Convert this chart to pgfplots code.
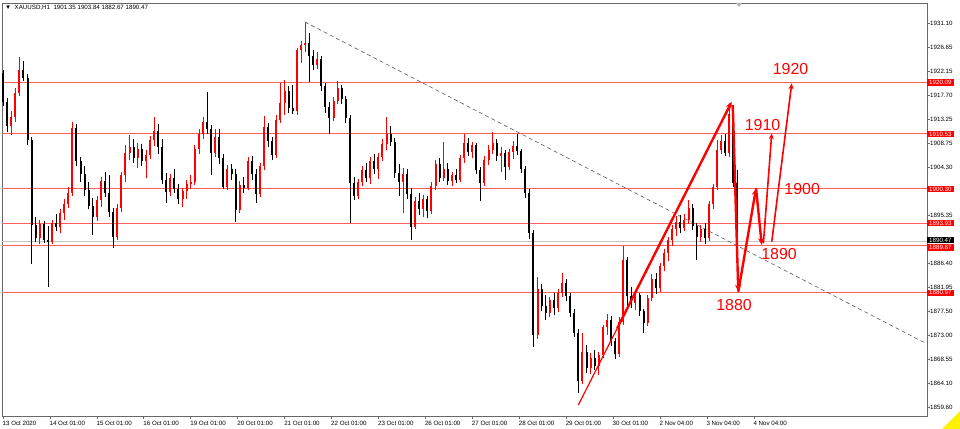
\documentclass[border=0pt]{standalone}
\usepackage{fontspec}
\setmainfont{Liberation Sans}
\usepackage{pgfplots}
\usepackage{pgfplotstable}
\pgfplotsset{compat=1.18}
\usetikzlibrary{arrows.meta}

\definecolor{mtred}{RGB}{255,0,0}
\definecolor{lvl}{RGB}{255,95,95}
\definecolor{frm}{RGB}{105,105,105}

% 2-hour candles: x = hour index, open high low close
\pgfplotstableread{
x o h l c
0 1921.8 1922.5 1915.8 1916.5
2 1916.5 1917.2 1910.8 1912.0
4 1912.0 1914.8 1910.3 1913.6
6 1913.6 1919.0 1912.8 1918.1
8 1918.1 1924.9 1917.5 1922.5
10 1922.5 1924.0 1920.3 1921.0
12 1921.0 1921.6 1908.5 1909.4
14 1909.4 1910.0 1886.3 1893.5
16 1893.5 1895.0 1890.5 1891.2
18 1891.2 1894.6 1890.0 1893.8
20 1893.8 1894.3 1890.2 1890.8
22 1890.8 1893.4 1882.1 1890.4
24 1890.4 1894.5 1890.0 1894.0
26 1894.0 1895.6 1892.4 1893.2
28 1893.2 1896.5 1892.0 1895.8
30 1895.8 1898.4 1894.6 1897.5
32 1897.5 1900.6 1896.8 1899.5
34 1899.5 1912.8 1899.0 1911.6
36 1911.6 1912.4 1904.5 1905.4
38 1905.4 1906.2 1901.5 1903.0
40 1903.0 1904.6 1899.0 1900.0
42 1900.0 1901.5 1896.5 1897.2
44 1897.2 1898.6 1891.7 1895.1
46 1895.1 1899.0 1894.3 1898.2
48 1898.2 1902.6 1897.0 1901.8
50 1901.8 1903.5 1898.8 1899.6
52 1899.6 1902.8 1895.0 1896.0
54 1896.0 1896.8 1889.3 1891.4
56 1891.4 1897.5 1890.8 1896.8
58 1896.8 1903.5 1896.0 1902.8
60 1902.8 1908.5 1901.5 1906.9
62 1906.9 1910.3 1905.6 1908.1
64 1908.1 1909.6 1905.2 1906.0
66 1906.0 1908.9 1904.2 1907.8
68 1907.8 1908.6 1904.6 1905.4
70 1905.4 1907.5 1902.3 1906.6
72 1906.6 1910.2 1905.8 1909.4
74 1909.4 1913.7 1908.2 1911.0
76 1911.0 1912.4 1906.8 1908.0
78 1908.0 1909.6 1901.2 1902.0
80 1902.0 1903.2 1897.7 1899.8
82 1899.8 1903.0 1898.9 1902.4
84 1902.4 1904.0 1899.5 1900.2
86 1900.2 1901.3 1897.5 1898.4
88 1898.4 1900.5 1897.0 1899.9
90 1899.9 1901.9 1898.5 1901.2
92 1901.2 1902.8 1900.3 1901.6
94 1901.6 1908.4 1901.0 1907.8
96 1907.8 1911.4 1906.8 1910.6
98 1910.6 1913.6 1909.6 1912.8
100 1912.8 1918.4 1910.5 1911.5
102 1911.5 1912.2 1902.9 1907.0
104 1907.0 1911.5 1906.2 1910.0
106 1910.0 1911.4 1905.0 1906.0
108 1906.0 1906.8 1900.2 1900.7
110 1900.7 1904.8 1900.0 1904.0
112 1904.0 1905.0 1902.0 1903.0
114 1903.0 1904.0 1894.2 1896.4
116 1896.4 1901.8 1895.8 1901.0
118 1901.0 1902.6 1899.6 1900.5
120 1900.5 1906.2 1900.0 1905.5
122 1905.5 1906.4 1902.0 1903.0
124 1903.0 1904.0 1897.7 1899.4
126 1899.4 1905.2 1898.8 1904.6
128 1904.6 1913.9 1903.8 1911.9
130 1911.9 1912.6 1908.0 1909.2
132 1909.2 1910.0 1905.6 1906.6
134 1906.6 1914.0 1906.0 1913.2
136 1913.2 1920.0 1912.6 1916.3
138 1916.3 1920.5 1914.0 1918.5
140 1918.5 1919.5 1914.4 1915.4
142 1915.4 1919.6 1914.2 1914.8
144 1914.8 1926.6 1914.0 1926.1
146 1926.1 1927.8 1923.8 1927.0
148 1927.0 1931.3 1925.8 1927.4
150 1927.4 1929.3 1920.2 1925.0
152 1925.0 1926.2 1922.4 1923.4
154 1923.4 1925.8 1922.6 1924.5
156 1924.5 1925.0 1918.6 1919.4
158 1919.4 1920.0 1914.5 1915.6
160 1915.6 1916.5 1910.6 1913.5
162 1913.5 1917.4 1913.0 1916.6
164 1916.6 1920.3 1916.0 1919.1
166 1919.1 1919.6 1916.0 1917.0
168 1917.0 1917.6 1912.5 1913.5
170 1913.5 1914.0 1894.0 1901.4
172 1901.4 1902.6 1898.2 1899.0
174 1899.0 1902.2 1898.5 1901.5
176 1901.5 1904.6 1900.8 1903.8
178 1903.8 1905.2 1901.5 1902.4
180 1902.4 1906.2 1901.2 1905.4
182 1905.4 1906.8 1903.0 1904.0
184 1904.0 1907.0 1902.2 1906.3
186 1906.3 1909.6 1905.5 1908.6
188 1908.6 1913.7 1907.6 1910.6
190 1910.6 1912.0 1908.2 1909.0
192 1909.0 1909.8 1902.4 1903.2
194 1903.2 1905.0 1899.0 1901.6
196 1901.6 1904.2 1895.8 1903.0
198 1903.0 1904.0 1898.5 1899.4
200 1899.4 1900.5 1890.8 1893.3
202 1893.3 1898.8 1892.8 1898.0
204 1898.0 1899.6 1895.5 1896.6
206 1896.6 1899.2 1895.0 1898.4
208 1898.4 1899.0 1894.8 1896.2
210 1896.2 1901.5 1895.6 1900.8
212 1900.8 1905.6 1900.0 1905.0
214 1905.0 1906.0 1901.5 1902.4
216 1902.4 1909.0 1901.8 1904.0
218 1904.0 1905.2 1901.0 1901.8
220 1901.8 1903.4 1900.8 1902.8
222 1902.8 1904.0 1901.4 1902.0
224 1902.0 1906.6 1901.6 1906.0
226 1906.0 1910.5 1905.2 1908.8
228 1908.8 1909.8 1906.4 1907.2
230 1907.2 1909.0 1906.0 1908.5
232 1908.5 1908.9 1903.0 1903.8
234 1903.8 1904.4 1898.0 1901.4
236 1901.4 1906.4 1900.8 1905.7
238 1905.7 1908.5 1904.8 1907.6
240 1907.6 1910.9 1906.8 1908.8
242 1908.8 1909.6 1905.5 1906.4
244 1906.4 1908.0 1903.5 1907.0
246 1907.0 1907.6 1902.0 1904.4
248 1904.4 1907.8 1903.8 1907.2
250 1907.2 1909.2 1905.8 1908.2
252 1908.2 1910.6 1906.6 1907.4
254 1907.4 1907.8 1903.2 1904.0
256 1904.0 1904.6 1898.6 1899.6
258 1899.6 1900.2 1891.0 1892.0
260 1892.0 1892.6 1870.9 1873.2
262 1873.2 1884.0 1872.4 1881.6
264 1881.6 1882.6 1877.6 1878.6
266 1878.6 1880.5 1876.0 1877.2
268 1877.2 1880.2 1876.4 1879.6
270 1879.6 1881.0 1876.8 1878.2
272 1878.2 1881.6 1877.4 1881.0
274 1881.0 1884.6 1880.2 1882.7
276 1882.7 1883.6 1879.5 1880.4
278 1880.4 1881.0 1876.4 1877.2
280 1877.2 1878.0 1872.8 1873.5
282 1873.5 1874.2 1862.3 1864.5
284 1864.5 1873.5 1864.0 1870.0
286 1870.0 1871.2 1866.0 1867.0
288 1867.0 1869.8 1865.8 1868.8
290 1868.8 1870.4 1866.6 1867.4
292 1867.4 1870.0 1865.6 1869.4
294 1869.4 1875.0 1868.8 1874.6
296 1874.6 1877.0 1873.2 1876.0
298 1876.0 1876.6 1871.0 1872.0
300 1872.0 1872.6 1868.6 1869.6
302 1869.6 1876.4 1869.0 1875.6
304 1875.6 1889.6 1875.0 1887.1
306 1887.1 1887.6 1877.7 1880.4
308 1880.4 1882.0 1878.2 1879.0
310 1879.0 1881.2 1877.8 1880.6
312 1880.6 1881.0 1876.6 1877.5
314 1877.5 1878.0 1873.5 1875.3
316 1875.3 1880.6 1874.8 1880.0
318 1880.0 1884.4 1879.4 1883.6
320 1883.6 1884.6 1880.8 1881.8
322 1881.8 1886.6 1881.2 1886.0
324 1886.0 1889.2 1885.0 1888.4
326 1888.4 1891.4 1886.8 1890.8
328 1890.8 1893.6 1889.6 1892.8
330 1892.8 1895.2 1891.6 1894.2
332 1894.2 1895.4 1892.0 1893.0
334 1893.0 1895.6 1892.4 1894.6
336 1894.6 1898.2 1893.8 1896.8
338 1896.8 1897.4 1892.6 1893.4
340 1893.4 1894.0 1887.1 1891.4
342 1891.4 1893.6 1890.4 1892.8
344 1892.8 1894.0 1890.0 1891.2
346 1891.2 1898.0 1890.6 1897.4
348 1897.4 1901.2 1896.6 1900.7
350 1900.7 1909.4 1900.0 1907.5
352 1907.5 1910.4 1906.8 1909.2
354 1909.2 1910.6 1906.4 1907.0
356 1907.0 1916.3 1906.2 1914.2
358 1914.2 1914.8 1900.6 1901.35
360 1901.35 1903.84 1882.67 1890.47
}\candles

\begin{document}
\begin{tikzpicture}[font=\fontsize{6.2}{7}\selectfont]
\path[use as bounding box] (-2bp,-13bp) rectangle (958bp,416bp);
\begin{axis}[
  at={(0,0)}, anchor=south west, scale only axis,
  width=925bp, height=413bp,
  xmin=-0.5, xmax=452.9, ymin=1858.05, ymax=1934.88,
  clip=false,
  axis line style={frm, line width=0.8bp},
  tick style={frm, line width=0.6bp},
  tick align=outside, major tick length=3bp,
  xtick pos=bottom, ytick pos=right, yticklabel pos=right,
  xtick={0,23,...,368},
  xticklabels={13 Oct 2020,14 Oct 01:00,15 Oct 01:00,16 Oct 01:00,19 Oct 01:00,20 Oct 01:00,21 Oct 01:00,22 Oct 01:00,23 Oct 01:00,26 Oct 01:00,27 Oct 01:00,28 Oct 01:00,29 Oct 01:00,30 Oct 01:00,2 Nov 04:00,3 Nov 04:00,4 Nov 04:00},
  ytick={1859.60,1864.10,1868.55,1873.00,1877.50,1881.95,1886.40,1890.85,1895.35,1899.80,1904.30,1908.75,1913.25,1917.70,1922.15,1926.65,1931.10},
  % 1890.85 and 1899.80 sit under the price boxes, so they stay blank
  yticklabels={1859.60,1864.10,1868.55,1873.00,1877.50,1881.95,1886.40,,1895.35,,1904.30,1908.75,1913.25,1917.70,1922.15,1926.65,1931.10},
  tick label style={font=\fontsize{6.2}{7}\selectfont, text=black},
  xticklabel style={anchor=north west, inner sep=0pt, xshift=-0.5bp, yshift=-2bp},
  yticklabel style={anchor=west, inner sep=0pt, xshift=0bp},
]
% support / resistance levels
\addplot[lvl, line width=0.8bp] coordinates {(-0.5,1920.09)(452.9,1920.09)};
\addplot[lvl, line width=0.8bp] coordinates {(-0.5,1910.53)(452.9,1910.53)};
\addplot[lvl, line width=0.8bp] coordinates {(-0.5,1900.30)(452.9,1900.30)};
\addplot[lvl, line width=0.8bp] coordinates {(-0.5,1893.93)(452.9,1893.93)};
\addplot[gray!45, line width=0.8bp] coordinates {(-0.5,1890.47)(452.9,1890.47)};
\addplot[lvl, line width=0.8bp] coordinates {(-0.5,1889.87)(452.9,1889.87)};
\addplot[lvl, line width=0.8bp] coordinates {(-0.5,1880.97)(452.9,1880.97)};
% falling trend line
\addplot[gray!70!black, line width=0.6bp, dash pattern=on 4bp off 3bp] coordinates {(148.0,1931.34)(452.0,1871.63)};

% candles: up = red, down = black
\addplot[mtred, line width=0.6bp, quiver={u=0, v=\thisrow{h}-\thisrow{l}},
  restrict expr to domain={\thisrow{c}-\thisrow{o}}{0:500}] table[x=x, y=l] {\candles};
\addplot[mtred, line width=2bp, quiver={u=0, v=\thisrow{c}-\thisrow{o}},
  restrict expr to domain={\thisrow{c}-\thisrow{o}}{0:500}] table[x=x, y=o] {\candles};
\addplot[black, line width=0.6bp, quiver={u=0, v=\thisrow{h}-\thisrow{l}},
  restrict expr to domain={\thisrow{c}-\thisrow{o}}{-500:-0.001}] table[x=x, y=l] {\candles};
\addplot[black, line width=2bp, quiver={u=0, v=\thisrow{c}-\thisrow{o}},
  restrict expr to domain={\thisrow{c}-\thisrow{o}}{-500:-0.001}] table[x=x, y=o] {\candles};

% drawn forecast arrows
\addplot[mtred, line width=1.2bp] coordinates {(282.0,1860.10)(301.0,1874.33)};
\addplot[mtred, line width=2.4bp, -{Stealth[length=7bp,width=6bp]}] coordinates {(301.0,1874.33)(357.2,1916.52)};
\addplot[mtred, line width=2.4bp, -{Stealth[length=7bp,width=6bp]}] coordinates {(357.7,1915.90)(360.4,1881.17)};
\addplot[mtred, line width=2.4bp, -{Stealth[length=7bp,width=6bp]}] coordinates {(360.4,1881.17)(369.1,1900.41)};
\addplot[mtred, line width=2.4bp, -{Stealth[length=7bp,width=6bp]}] coordinates {(369.1,1900.41)(371.9,1889.86)};
\addplot[mtred, line width=1.6bp, -{Stealth[length=6bp,width=5bp]}] coordinates {(372.7,1890.18)(376.8,1910.64)};
\addplot[mtred, line width=1.6bp, -{Stealth[length=6bp,width=5bp]}] coordinates {(376.8,1890.47)(386.6,1919.94)};

\node[text=mtred, font=\fontsize{16}{16}\selectfont] at (axis cs:386.0,1922.51) {1920};
\node[text=mtred, font=\fontsize{16}{16}\selectfont] at (axis cs:372.3,1912.18) {1910};
\node[text=mtred, font=\fontsize{16}{16}\selectfont] at (axis cs:391.7,1900.28) {1900};
\node[text=mtred, font=\fontsize{16}{16}\selectfont] at (axis cs:380.4,1888.19) {1890};
\node[text=mtred, font=\fontsize{16}{16}\selectfont] at (axis cs:358.3,1878.61) {1880};

% price labels on the scale
\tikzset{plab/.style={fill=mtred, text=white, anchor=west, inner xsep=2bp, inner ysep=0.4bp, minimum height=6.5bp, font=\fontsize{6.2}{6.2}\selectfont}}
\node[plab] at (axis cs:452.9,1920.09) {1920.09};
\node[plab] at (axis cs:452.9,1910.53) {1910.53};
\node[plab] at (axis cs:452.9,1900.30) {1900.30};
\node[plab] at (axis cs:452.9,1893.93) {1893.93};
\node[plab, fill=black, minimum height=5bp, anchor=south west, yshift=-1bp] at (axis cs:452.9,1890.47) {1890.47};
\node[plab, anchor=north west, yshift=1bp] at (axis cs:452.9,1889.87) {1889.87};
\node[plab] at (axis cs:452.9,1880.97) {1880.97};
\end{axis}
\node[anchor=west, inner sep=0pt] at (3bp,408bp) {▼\ \ XAUUSD,H1\ \ 1901.35 1903.84 1882.67 1890.47};
\fill[gray!60] (734bp,413bp) -- (740bp,413bp) -- (737bp,409bp) -- cycle;
\fill[yellow] (940bp,-13bp) -- (958bp,-13bp) -- (958bp,5bp) -- cycle;
\end{tikzpicture}
\end{document}
